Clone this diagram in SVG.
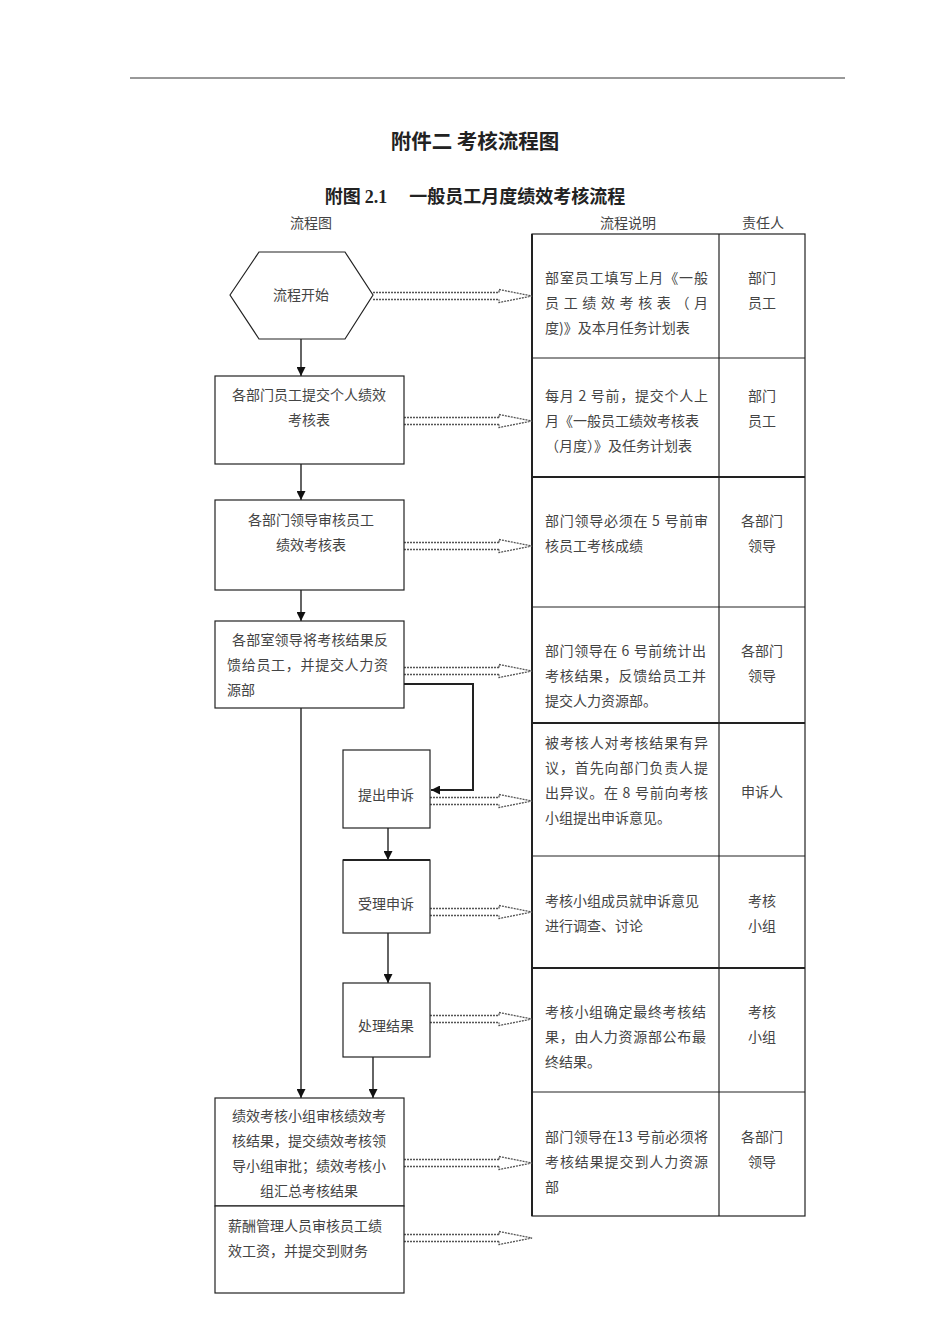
<svg xmlns="http://www.w3.org/2000/svg" xmlns:xlink="http://www.w3.org/1999/xlink" width="950" height="1344" viewBox="0 0 950 1344">
<style>
.t{font-family:"Noto Sans CJK SC","Liberation Serif",serif;font-size:14px;fill:#444}
.c{text-anchor:middle}
.h{font-family:"Noto Sans CJK SC",sans-serif;font-weight:bold;fill:#222;text-anchor:middle}
.box{fill:#fff;stroke:#222;stroke-width:1.2}
.grid{stroke:#222;stroke-width:1.2;fill:none}
.thick{stroke:#222;stroke-width:2;fill:none}
.ln{stroke:#111;stroke-width:1.3;fill:none}
.da{stroke:#555;stroke-width:1.3;stroke-dasharray:2 1;fill:none}
</style>
<defs>
<marker id="ah" viewBox="0 0 10 10" refX="10" refY="5" markerWidth="9" markerHeight="9" markerUnits="userSpaceOnUse" orient="auto"><path d="M0,0 L10,5 L0,10 z" fill="#111"/></marker>
<path id="head" d="M-33,-3.5 L-33,-6.5 L0,0 L-33,6.5 L-33,3.5" class="da"/>
</defs>
<rect width="950" height="1344" fill="#fff"/>
<line x1="130" y1="78" x2="845" y2="78" stroke="#333" stroke-width="1"/>
<text x="475" y="149" class="h" font-size="20.5">附件二 考核流程图</text>
<text x="475" y="203" class="h" font-size="18">附图 <tspan font-family="Liberation Serif">2.1</tspan>　 一般员工月度绩效考核流程</text>
<text x="311" y="228" class="t c" font-size="16">流程图</text>
<text x="628" y="228" class="t c" font-size="16">流程说明</text>
<text x="763" y="228" class="t c" font-size="16">责任人</text>

<g id="table">
<rect x="532" y="234" width="273" height="982" class="grid"/>
<line x1="532" y1="234" x2="532" y2="1216" class="thick"/>
<line x1="719" y1="234" x2="719" y2="1216" class="grid"/>
<line x1="532" y1="358" x2="805" y2="358" class="grid"/>
<line x1="532" y1="477" x2="805" y2="477" class="thick"/>
<line x1="532" y1="607" x2="805" y2="607" class="grid"/>
<line x1="532" y1="723" x2="805" y2="723" class="thick"/>
<line x1="532" y1="856" x2="805" y2="856" class="grid"/>
<line x1="532" y1="968" x2="805" y2="968" class="thick"/>
<line x1="532" y1="1092" x2="805" y2="1092" class="grid"/>
</g>
<g id="desc">
<text class="t" x="545" y="283" textLength="163" lengthAdjust="spacing">部室员工填写上月《一般</text>
<text class="t" x="545" y="308" textLength="163" lengthAdjust="spacing">员工绩效考核表（月</text>
<text class="t" x="545" y="333">度)》及本月任务计划表</text>
<text class="t" x="545" y="401" textLength="163" lengthAdjust="spacing">每月 2 号前，提交个人上</text>
<text class="t" x="545" y="426">月《一般员工绩效考核表</text>
<text class="t" x="545" y="451">（月度）》及任务计划表</text>
<text class="t" x="545" y="526" textLength="163" lengthAdjust="spacing">部门领导必须在 5 号前审</text>
<text class="t" x="545" y="551">核员工考核成绩</text>
<text class="t" x="545" y="656" textLength="161" lengthAdjust="spacing">部门领导在 6 号前统计出</text>
<text class="t" x="545" y="681" textLength="161" lengthAdjust="spacing">考核结果，反馈给员工并</text>
<text class="t" x="545" y="706">提交人力资源部。</text>
<text class="t" x="545" y="748" textLength="163" lengthAdjust="spacing">被考核人对考核结果有异</text>
<text class="t" x="545" y="773" textLength="163" lengthAdjust="spacing">议，首先向部门负责人提</text>
<text class="t" x="545" y="798" textLength="163" lengthAdjust="spacing">出异议。在 8 号前向考核</text>
<text class="t" x="545" y="823">小组提出申诉意见。</text>
<text class="t" x="545" y="906">考核小组成员就申诉意见</text>
<text class="t" x="545" y="931">进行调查、讨论</text>
<text class="t" x="545" y="1017" textLength="161" lengthAdjust="spacing">考核小组确定最终考核结</text>
<text class="t" x="545" y="1042" textLength="161" lengthAdjust="spacing">果，由人力资源部公布最</text>
<text class="t" x="545" y="1067">终结果。</text>
<text class="t" x="545" y="1142" textLength="163" lengthAdjust="spacing">部门领导在13 号前必须将</text>
<text class="t" x="545" y="1167" textLength="163" lengthAdjust="spacing">考核结果提交到人力资源</text>
<text class="t" x="545" y="1192">部</text>
</g>
<g id="resp">
<text class="t c" x="762" y="283">部门</text><text class="t c" x="762" y="308">员工</text>
<text class="t c" x="762" y="401">部门</text><text class="t c" x="762" y="426">员工</text>
<text class="t c" x="762" y="526">各部门</text><text class="t c" x="762" y="551">领导</text>
<text class="t c" x="762" y="656">各部门</text><text class="t c" x="762" y="681">领导</text>
<text class="t c" x="762" y="797">申诉人</text>
<text class="t c" x="762" y="906">考核</text><text class="t c" x="762" y="931">小组</text>
<text class="t c" x="762" y="1017">考核</text><text class="t c" x="762" y="1042">小组</text>
<text class="t c" x="762" y="1142">各部门</text><text class="t c" x="762" y="1167">领导</text>
</g>

<g id="connectors">
<line x1="301" y1="339" x2="301" y2="376" class="ln" marker-end="url(#ah)"/>
<line x1="301" y1="464" x2="301" y2="500" class="ln" marker-end="url(#ah)"/>
<line x1="301" y1="590" x2="301" y2="621" class="ln" marker-end="url(#ah)"/>
<line x1="301" y1="708" x2="301" y2="1098" class="ln" marker-end="url(#ah)"/>
<polyline points="404,684 473,684 473,790 431,790" class="thick" marker-end="url(#ah)"/>
<line x1="388" y1="828" x2="388" y2="860" class="ln" marker-end="url(#ah)"/>
<line x1="388" y1="933" x2="388" y2="983" class="ln" marker-end="url(#ah)"/>
<line x1="373" y1="1057" x2="373" y2="1098" class="ln" marker-end="url(#ah)"/>
<g id="hollow">
<path class="da" d="M373,292.5 H499 M373,299.5 H499"/><use xlink:href="#head" transform="translate(532,296)"/>
<path class="da" d="M404,417.5 H499 M404,424.5 H499"/><use xlink:href="#head" transform="translate(532,421)"/>
<path class="da" d="M404,542.5 H499 M404,549.5 H499"/><use xlink:href="#head" transform="translate(532,546)"/>
<path class="da" d="M404,667.5 H499 M404,674.5 H499"/><use xlink:href="#head" transform="translate(532,671)"/>
<path class="da" d="M430,797.5 H499 M430,804.5 H499"/><use xlink:href="#head" transform="translate(532,801)"/>
<path class="da" d="M430,908.5 H499 M430,915.5 H499"/><use xlink:href="#head" transform="translate(532,912)"/>
<path class="da" d="M430,1015.5 H499 M430,1022.5 H499"/><use xlink:href="#head" transform="translate(532,1019)"/>
<path class="da" d="M404,1159.5 H499 M404,1166.5 H499"/><use xlink:href="#head" transform="translate(532,1163)"/>
<path class="da" d="M404,1234.5 H499 M404,1241.5 H499"/><use xlink:href="#head" transform="translate(532,1238)"/>
</g>
</g>

<g id="start">
<polygon points="230,295 259,252 345,252 373,295 345,339 259,339" class="box"/>
<text class="t c" x="301" y="300">流程开始</text>
</g>
<g id="n1">
<rect x="215" y="376" width="189" height="88" class="box"/>
<text class="t c" x="309" y="400">各部门员工提交个人绩效</text>
<text class="t c" x="309" y="425">考核表</text>
</g>
<g id="n2">
<rect x="215" y="500" width="189" height="90" class="box"/>
<text class="t c" x="311" y="525">各部门领导审核员工</text>
<text class="t c" x="311" y="550">绩效考核表</text>
</g>
<g id="n3">
<rect x="215" y="621" width="189" height="87" class="box"/>
<text class="t" x="232" y="645" textLength="156" lengthAdjust="spacing">各部室领导将考核结果反</text>
<text class="t" x="227" y="670" textLength="161" lengthAdjust="spacing">馈给员工，并提交人力资</text>
<text class="t" x="227" y="695">源部</text>
</g>
<g id="n4">
<rect x="343" y="750" width="87" height="78" class="box"/>
<text class="t c" x="386" y="800">提出申诉</text>
</g>
<g id="n5">
<rect x="343" y="860" width="87" height="73" class="box"/>
<line x1="343" y1="860" x2="430" y2="860" class="thick"/>
<text class="t c" x="386" y="909">受理申诉</text>
</g>
<g id="n6">
<rect x="343" y="983" width="87" height="74" class="box"/>
<text class="t c" x="386" y="1031">处理结果</text>
</g>
<g id="n7">
<rect x="215" y="1098" width="189" height="108" class="box"/>
<text class="t c" x="309" y="1121">绩效考核小组审核绩效考</text>
<text class="t c" x="309" y="1146">核结果，提交绩效考核领</text>
<text class="t c" x="309" y="1171">导小组审批；绩效考核小</text>
<text class="t c" x="309" y="1196">组汇总考核结果</text>
</g>
<g id="n8">
<rect x="215" y="1206" width="189" height="87" class="box"/>
<text class="t" x="228" y="1231">薪酬管理人员审核员工绩</text>
<text class="t" x="228" y="1256">效工资，并提交到财务</text>
</g>
</svg>
